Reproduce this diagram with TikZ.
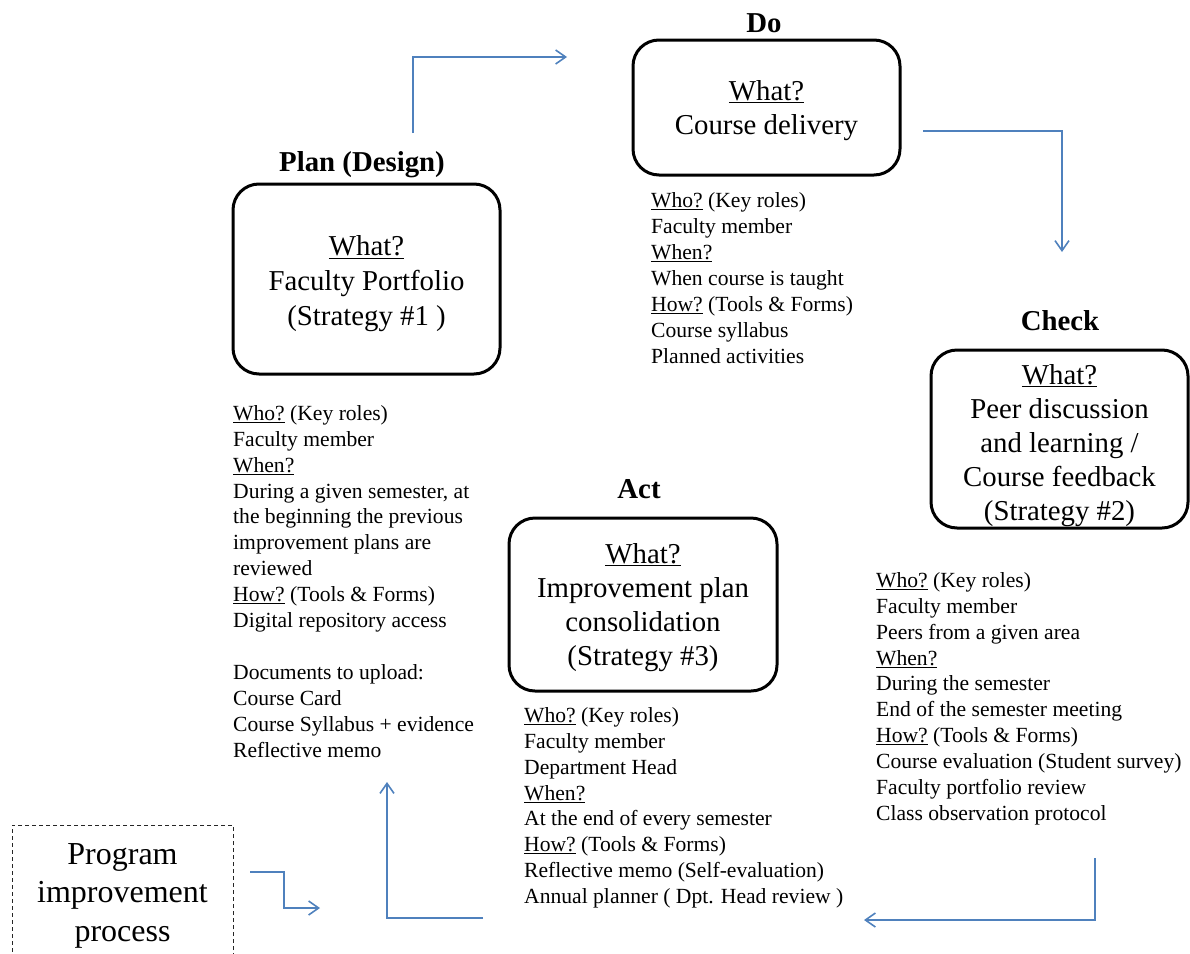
\documentclass[tikz,border=0pt]{standalone}
\usepackage{fontspec}
\setmainfont{Liberation Serif}
\usetikzlibrary{arrows.meta}
\definecolor{flow}{RGB}{79,129,189}
\newcommand{\ulw}[1]{\underline{#1}}
\begin{document}
\begin{tikzpicture}[x=1pt,y=-1pt,
  phasebox/.style={draw=black, line width=3pt, rounded corners=26pt, align=center, inner sep=0pt, font=\fontsize{28.8}{34}\selectfont},
  phasetitle/.style={anchor=base, inner sep=0pt, font=\fontsize{28.8}{33}\selectfont\bfseries},
  infolist/.style={anchor=north west, align=left, inner sep=0pt, font=\fontsize{21.6}{25.9}\selectfont},
  flowarrow/.style={draw=flow, line width=1.6pt, -{Straight Barb[length=10pt,width=14pt]}},
  progbox/.style={draw=black!85, line width=0.9pt, dash pattern=on 4pt off 3pt, align=center, inner sep=0pt, font=\fontsize{32}{38.5}\selectfont}
]
\useasboundingbox (0,0) rectangle (1190,953);
\clip (0,0) rectangle (1190,953);

% Plan
\node[phasetitle] (plantitle) at (362,171) {Plan (Design)};
\node[phasebox, minimum width=267pt, minimum height=190pt, font=\fontsize{28.8}{35}\selectfont] (plan) at (366.5,279)
  {\rule{0pt}{30pt}\ulw{What?}\\Faculty Portfolio\\(Strategy \#1 )};
\node[infolist] (planlist) at (233,402)
  {\strut\ulw{Who?} (Key roles)\\Faculty member\\\ulw{When?}\\During a given semester, at\\the beginning the previous\\improvement plans are\\reviewed\\\ulw{How?} (Tools \& Forms)\\Digital repository access\\[25.9pt]Documents to upload:\\Course Card\\Course Syllabus + evidence\\Reflective memo};

% Do
\node[phasetitle] (dotitle) at (764,32) {Do};
\node[phasebox, minimum width=267pt, minimum height=135pt] (do) at (766.5,107.5)
  {\rule{0pt}{26pt}\ulw{What?}\\Course delivery};
\node[infolist] (dolist) at (651,189.5)
  {\strut\ulw{Who?} (Key roles)\\Faculty member\\\ulw{When?}\\When course is taught\\\ulw{How?} (Tools \& Forms)\\Course syllabus\\Planned activities};

% Check
\node[phasetitle] (checktitle) at (1060,330) {Check};
\node[phasebox, minimum width=257pt, minimum height=178pt] (check) at (1059.5,439)
  {\rule{0pt}{33pt}\ulw{What?}\\Peer discussion\\and learning /\\Course feedback\\(Strategy \#2)};
\node[infolist] (checklist) at (876,569)
  {\strut\ulw{Who?} (Key roles)\\Faculty member\\Peers from a given area\\\ulw{When?}\\During the semester\\End of the semester meeting\\\ulw{How?} (Tools \& Forms)\\Course evaluation (Student survey)\\Faculty portfolio review\\Class observation protocol};

% Act
\node[phasetitle] (acttitle) at (639,498) {Act};
\node[phasebox, minimum width=268pt, minimum height=173pt] (act) at (643,604.5)
  {\rule{0pt}{26pt}\ulw{What?}\\Improvement plan\\consolidation\\(Strategy \#3)};
\node[infolist] (actlist) at (524,704)
  {\strut\ulw{Who?} (Key roles)\\Faculty member\\Department Head\\\ulw{When?}\\At the end of every semester\\\ulw{How?} (Tools \& Forms)\\Reflective memo (Self-evaluation)\\Annual planner ( Dpt. Head review )};

% Program improvement process
\node[progbox, minimum width=221pt, minimum height=135pt] (prog) at (122.5,892.5)
  {\rule{0pt}{27pt}Program\\improvement\\process};

% Flow arrows
\coordinate (a1s) at (413,133); \coordinate (a1e) at (567,57);
\coordinate (a2s) at (923,131); \coordinate (a2e) at (1062,252);
\coordinate (a3s) at (1095,858); \coordinate (a3e) at (864,920);
\coordinate (a4s) at (483,918); \coordinate (a4e) at (387,782);
\coordinate (a5s) at (250,872); \coordinate (a5m) at (284,872); \coordinate (a5e) at (320,908);
\draw[flowarrow] (a1s) |- (a1e);
\draw[flowarrow] (a2s) -| (a2e);
\draw[flowarrow] (a3s) |- (a3e);
\draw[flowarrow] (a4s) -| (a4e);
\draw[flowarrow] (a5s) -- (a5m) |- (a5e);
\end{tikzpicture}
\end{document}
